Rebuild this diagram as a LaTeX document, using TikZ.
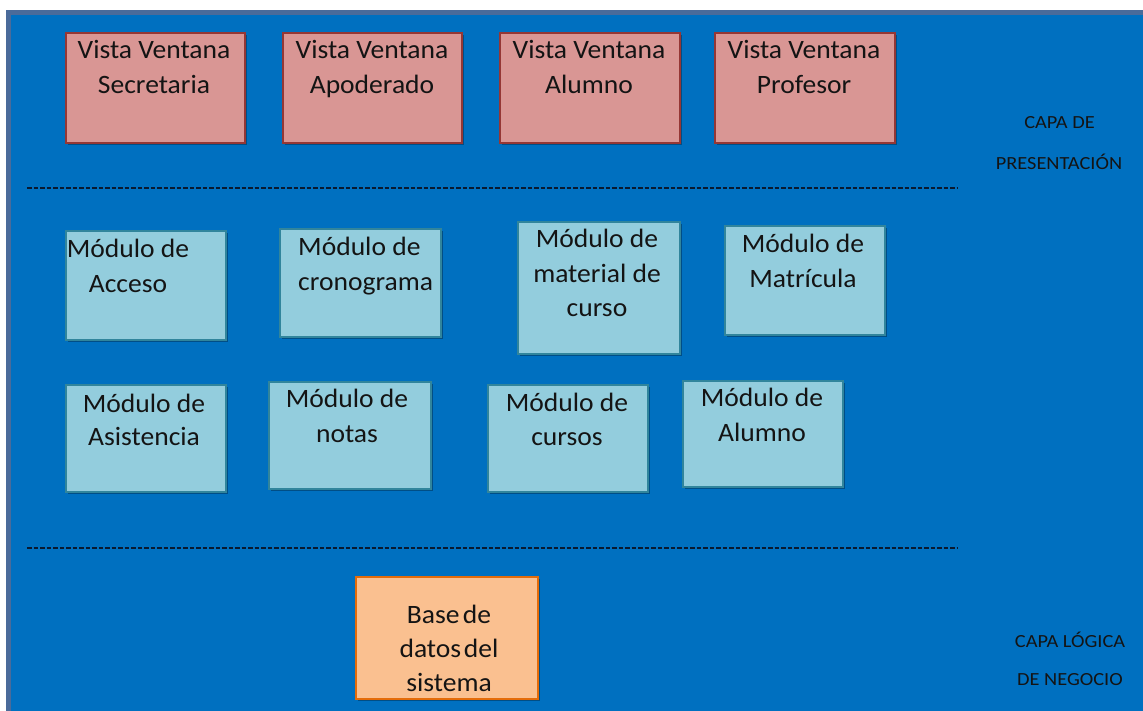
\documentclass[tikz,border=0pt]{standalone}
\usepackage{fontspec}
\newfontfamily\boxfont{Carlito}[FakeStretch=1.04]
\newfontfamily\labfont{Carlito}[FakeStretch=1.1]
\usetikzlibrary{shadows}
\definecolor{bgblue}{HTML}{0070C0}
\definecolor{framecol}{HTML}{4A6B9A}
\definecolor{pinkfill}{HTML}{D99694}
\definecolor{pinkline}{HTML}{953735}
\definecolor{cyanfill}{HTML}{93CDDD}
\definecolor{cyanline}{HTML}{31859C}
\definecolor{orfill}{HTML}{FAC090}
\definecolor{orline}{HTML}{E46C0A}
\definecolor{inkcol}{HTML}{141414}
\definecolor{dashcol}{HTML}{0A1A30}
\newcommand{\btxt}[3][c]{{\boxfont\fontsize{26.5}{#2}\selectfont\begin{tabular}[t]{@{}#1@{}}#3\end{tabular}}}
\newcommand{\bx}[6]{\node[#2, anchor=north west, minimum width={#5-#3}, minimum height={#6-#4}] (#1) at (#3,#4) {};}
\tikzset{
  basebox/.style={rectangle, inner sep=0pt, outer sep=0pt, line width=1.3pt,
    drop shadow={shadow xshift=2pt, shadow yshift=-2pt, opacity=0.3, fill=black}},
  pinkbox/.style={basebox, fill=pinkfill, draw=pinkline},
  cyanbox/.style={basebox, fill=cyanfill, draw=cyanline},
  orbox/.style={basebox, fill=orfill, draw=orline},
  txt/.style={inner sep=0pt, anchor=base, text=inkcol},
  labtxt/.style={inner sep=0pt, anchor=base, text=inkcol, font=\labfont\fontsize{18.5}{22}\selectfont},
  sepline/.style={draw=dashcol, line width=1.8pt, dash pattern=on 4.5pt off 2pt},
  frame/.style={fill=bgblue, draw=framecol, line width=4.5pt}
}
\begin{document}
\begin{tikzpicture}[x=1pt,y=-1pt]
\useasboundingbox (0,0) rectangle (1143,711);
\fill[white] (0,0) rectangle (1143,711);
\begin{scope}
\clip (0,0) rectangle (1143,711);
\path[frame] (8.5,12.5) rectangle (1160,730);
\end{scope}
% separators
\coordinate (d1a) at (27,188); \coordinate (d1b) at (958,188);
\coordinate (d2a) at (27,548); \coordinate (d2b) at (958,548);
\draw[sepline] (d1a) -- (d1b);
\draw[sepline] (d2a) -- (d2b);
% presentation layer
\bx{sec}{pinkbox}{66}{33}{245}{143}
\bx{apo}{pinkbox}{283}{33}{462}{143}
\bx{alu}{pinkbox}{500}{33}{680}{143}
\bx{pro}{pinkbox}{715}{33}{895}{143}
\node[txt] (secT) at (154,59) {\btxt{35}{Vista Ventana\\Secretaria}};
\node[txt] (apoT) at (372,59) {\btxt{35}{Vista Ventana\\Apoderado}};
\node[txt] (aluT) at (589,59) {\btxt{35}{Vista Ventana\\Alumno}};
\node[txt] (proT) at (804,59) {\btxt{35}{Vista Ventana\\Profesor}};
% modules
\bx{acc}{cyanbox}{66}{231}{226}{340}
\bx{cro}{cyanbox}{280}{229}{441}{337}
\bx{mat}{cyanbox}{518}{222}{680}{354}
\bx{mtr}{cyanbox}{725}{226}{885}{335}
\bx{asi}{cyanbox}{66}{385}{226}{492}
\bx{nts}{cyanbox}{269}{382}{431}{489}
\bx{cur}{cyanbox}{488}{385}{648}{492}
\bx{alm}{cyanbox}{683}{381}{843}{487}
\node[txt] (accT) at (128,258) {\btxt{35}{Módulo de\\Acceso}};
\node[txt, anchor=base west] (croT) at (298,256) {\btxt[l]{35}{Módulo de\\cronograma}};
\node[txt] (matT) at (597,248) {\btxt{34.5}{Módulo de\\material de\\curso}};
\node[txt] (mtrT) at (803,253) {\btxt{35}{Módulo de\\Matrícula}};
\node[txt] (asiT) at (144,412) {\btxt{33.5}{Módulo de\\Asistencia}};
\node[txt] (ntsT) at (347,407) {\btxt{35}{Módulo de\\notas}};
\node[txt] (curT) at (567,411) {\btxt{34}{Módulo de\\cursos}};
\node[txt] (almT) at (762,406) {\btxt{35}{Módulo de\\Alumno}};
% database
\bx{bdd}{orbox}{356}{577}{538}{699}
\node[txt] (bddT) at (449,623) {\btxt{34}{{\spaceskip=0.12em\relax Base de}\\{\spaceskip=0.1em\relax datos del}\\sistema}};
% layer labels
\node[labtxt] (lp1) at (1059.5,129) {CAPA DE};
\node[labtxt] (lp2) at (1059,170) {PRESENTACIÓN};
\node[labtxt] (ll1) at (1070,647) {CAPA LÓGICA};
\node[labtxt] (ll2) at (1070,685) {DE NEGOCIO};
\end{tikzpicture}
\end{document}
